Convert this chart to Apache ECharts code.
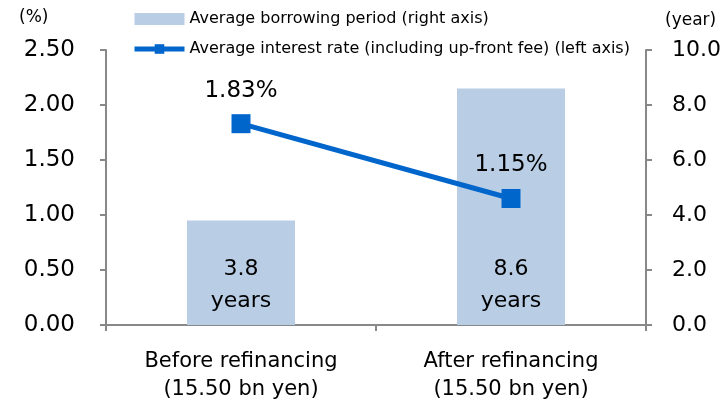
<!DOCTYPE html>
<html>
<head>
<meta charset="utf-8">
<script src="https://cdn.jsdelivr.net/npm/echarts@6/dist/echarts.min.js"></script>
<style>
  html, body { margin: 0; padding: 0; background: #fff; }
  #chart { width: 721px; height: 402px; }
</style>
</head>
<body>
<div id="chart"></div>
<script>
const categories = ["Before refinancing\n(15.50 bn yen)", "After refinancing\n(15.50 bn yen)"]
const borrowingYears = [3.8, 8.6]
const interestRate = [1.83, 1.15]
const leftTicks = [0, 0.5, 1, 1.5, 2, 2.5]
const rightTicks = [0, 2, 4, 6, 8, 10]

const font = "DejaVu Sans, sans-serif"
const axisColor = "#888888"

const chart = echarts.init(document.getElementById("chart"))
chart.setOption({
  animation: false,
  textStyle: { fontFamily: font },
  legend: {
    orient: "vertical",
    left: 127,
    top: 6,
    itemWidth: 50,
    itemHeight: 12,
    itemGap: 14,
    textStyle: { fontSize: 16, color: "#000", fontFamily: font },
    data: [
      { name: "Average borrowing period (right axis)", icon: "rect" },
      {
        name: "Average interest rate (including up-front fee) (left axis)",
        lineStyle: { width: 5 },
      },
    ],
  },
  graphic: [
    { type: "text", left: 19, top: 9, style: { text: "(%)", fontSize: 17, fontFamily: font, fill: "#000" } },
    { type: "text", left: 665, top: 12, style: { text: "(year)", fontSize: 17, fontFamily: font, fill: "#000" } },
  ],
  grid: { left: 106, right: 75, top: 50, bottom: 77, outerBoundsMode: "none" },
  xAxis: {
    type: "category",
    data: categories,
    axisLine: { lineStyle: { color: axisColor, width: 2 } },
    axisTick: { show: true, length: 6, lineStyle: { color: axisColor, width: 2 } },
    axisLabel: { color: "#000", fontSize: 21, lineHeight: 28, margin: 23, fontFamily: font },
  },
  yAxis: [
    {
      type: "value",
      min: leftTicks[0],
      max: leftTicks[leftTicks.length - 1],
      interval: 0.5,
      position: "left",
      axisLine: { show: true, lineStyle: { color: axisColor, width: 2 } },
      axisTick: { show: true, length: 6, lineStyle: { color: axisColor, width: 2 } },
      splitLine: { show: false },
      axisLabel: {
        color: "#000",
        fontSize: 23,
        margin: 31,
        fontFamily: font,
        formatter: (v) => v.toFixed(2),
      },
    },
    {
      type: "value",
      min: rightTicks[0],
      max: rightTicks[rightTicks.length - 1],
      interval: 2,
      position: "right",
      axisLine: { show: true, lineStyle: { color: axisColor, width: 2 } },
      axisTick: { show: true, length: 6, lineStyle: { color: axisColor, width: 2 } },
      splitLine: { show: false },
      axisLabel: {
        color: "#000",
        fontSize: 22,
        margin: 26,
        fontFamily: font,
        formatter: (v) => v.toFixed(1),
      },
    },
  ],
  series: [
    {
      name: "Average borrowing period (right axis)",
      type: "bar",
      yAxisIndex: 1,
      barWidth: 108,
      data: borrowingYears,
      itemStyle: { color: "#B9CDE5" },
      label: {
        show: true,
        position: "insideBottom",
        distance: 8,
        color: "#000",
        fontSize: 22,
        lineHeight: 32,
        fontFamily: font,
        formatter: (p) => p.value.toFixed(1) + "\nyears",
      },
      z: 1,
    },
    {
      name: "Average interest rate (including up-front fee) (left axis)",
      type: "line",
      yAxisIndex: 0,
      data: interestRate,
      symbol: "rect",
      symbolSize: 19,
      lineStyle: { color: "#0066CC", width: 5 },
      itemStyle: { color: "#0066CC" },
      label: {
        show: true,
        position: "top",
        distance: 12,
        color: "#000",
        fontSize: 23,
        fontFamily: font,
        formatter: (p) => p.value.toFixed(2) + "%",
      },
      z: 3,
    },
  ],
})
</script>
</body>
</html>
